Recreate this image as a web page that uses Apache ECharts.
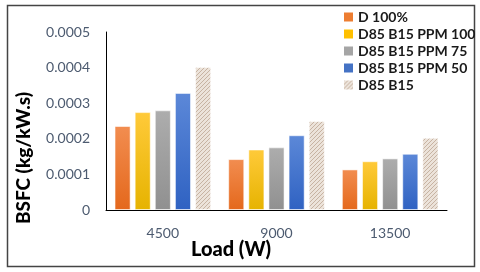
<!DOCTYPE html>
<html><head><meta charset="utf-8">
<script src="https://cdn.jsdelivr.net/npm/echarts@6/dist/echarts.min.js"></script>
<style>html,body{margin:0;padding:0;background:#fff}#c{width:480px;height:272px}</style>
</head><body><div id="c"></div>
<script>
var categories = ['4500', '9000', '13500'];
var seriesNames = ['D 100%', 'D85 B15 PPM 100', 'D85 B15 PPM 75', 'D85 B15 PPM 50', 'D85 B15'];
var d100 = [0.000236, 0.000143, 0.000114];
var ppm100 = [0.000275, 0.000170, 0.000137];
var ppm75 = [0.000280, 0.000176, 0.000145];
var ppm50 = [0.000329, 0.000210, 0.000158];
var b15 = [0.000402, 0.000250, 0.000203];
var yTicks = [0, 0.0001, 0.0002, 0.0003, 0.0004, 0.0005];

function grad(top, bottom) {
  return new echarts.graphic.LinearGradient(0, 0, 0, 1, [
    {offset: 0, color: top}, {offset: 1, color: bottom}
  ]);
}
function hatch() {
  var c = document.createElement('canvas');
  c.width = 4; c.height = 4;
  var g = c.getContext('2d');
  g.fillStyle = '#ece3da';
  g.fillRect(0, 0, 4, 4);
  g.strokeStyle = '#c7b3a2';
  g.lineWidth = 1;
  g.beginPath();
  g.moveTo(0, 4); g.lineTo(4, 0);
  g.moveTo(-1, 1); g.lineTo(1, -1);
  g.moveTo(3, 5); g.lineTo(5, 3);
  g.stroke();
  return {image: c, repeat: 'repeat'};
}
var fills = [
  grad('#f28d50', '#e4681c'),
  grad('#ffca3a', '#e6b300'),
  grad('#adadad', '#909090'),
  grad('#5c88d8', '#2f62c2'),
  hatch()
];
var legendColors = ['#ed7d31', '#ffc000', '#a5a5a5', '#4472c4', '#e2d6ca'];
var data = [d100, ppm100, ppm75, ppm50, b15];

var chart = echarts.init(document.getElementById('c'), null, {renderer: 'canvas'});
var series = seriesNames.map(function (n, i) {
  return {
    name: n, type: 'bar', data: data[i],
    barGap: '25%', barCategoryGap: '15%',
    itemStyle: {color: fills[i], borderColor: 'rgba(255,255,255,0.55)', borderWidth: 1},
    emphasis: {disabled: true}
  };
});
chart.setOption({
  animation: false,
  backgroundColor: '#fff',
  grid: {left: 106, right: 33, top: 32, bottom: 62},
  legend: {
    orient: 'vertical', left: 339, top: 5, itemWidth: 9, itemHeight: 9, itemGap: 3,
    icon: 'rect',
    textStyle: {fontFamily: 'Lato', fontWeight: 'bold', fontSize: 14, color: '#1a1a1a'},
    data: seriesNames.map(function (n, i) { return {name: n, itemStyle: {color: i === 4 ? fills[4] : legendColors[i], borderWidth: 0}}; })
  },
  xAxis: {
    type: 'category', data: categories,
    axisLine: {lineStyle: {color: '#000', width: 1}},
    axisTick: {show: false},
    axisLabel: {fontFamily: 'Lato', fontSize: 14, color: '#4d5b70', margin: 16}
  },
  yAxis: {
    type: 'value', min: 0, max: 0.0005, interval: 0.0001,
    splitLine: {show: false},
    axisLine: {show: true, lineStyle: {color: '#000', width: 1}},
    axisTick: {show: false},
    axisLabel: {fontFamily: 'Lato', fontSize: 14, color: '#4d5b70', margin: 16,
      formatter: function (v) { return v === 0 ? '0' : v.toFixed(4); }}
  },
  graphic: [
    {type: 'rect', left: 5, top: 3, shape: {width: 467, height: 261},
     style: {fill: 'none', stroke: '#444', lineWidth: 1.5}, silent: true},
    {type: 'text', x: 24, y: 158, rotation: Math.PI / 2,
     style: {text: 'BSFC (kg/kW.s)', fontFamily: 'Lato', fontWeight: 900, fontSize: 19,
       fill: '#000', align: 'center', verticalAlign: 'middle'}},
    {type: 'text', x: 231, y: 250,
     style: {text: 'Load (W)', fontFamily: 'Lato', fontWeight: 900, fontSize: 20,
       fill: '#000', align: 'center', verticalAlign: 'middle'}}
  ],
  series: series
});
</script></body></html>
